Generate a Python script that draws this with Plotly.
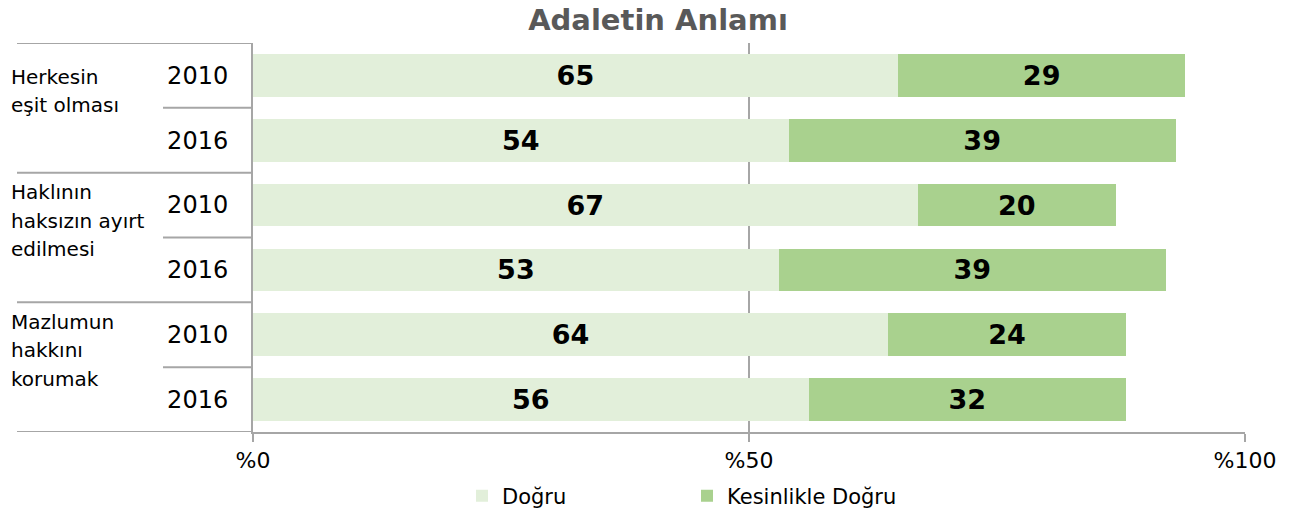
import plotly.graph_objects as go

groups = [["Herkesin", "eşit olması"],
          ["Haklının", "haksızın ayırt", "edilmesi"],
          ["Mazlumun", "hakkını", "korumak"]]
years = ["2010", "2016", "2010", "2016", "2010", "2016"]
dogru = [65, 54, 67, 53, 64, 56]
kesinlikle = [29, 39, 20, 39, 24, 32]
series_names = ["Doğru", "Kesinlikle Doğru"]
colors = ["#E2EFDA", "#A9D18E"]
x_ticks = [0, 50, 100]
x_ticktext = ["%0", "%50", "%100"]

rows = list(range(len(years)))
FONT = "DejaVu Sans"
W, H = 1300, 515
L, R, T, B = 253, 55, 43, 83
PW = W - L - R

fig = go.Figure()
for name, vals, col in zip(series_names, [dogru, kesinlikle], colors):
    fig.add_trace(go.Bar(
        y=rows, x=vals, name=name, orientation="h",
        marker=dict(color=col, line=dict(width=0)),
        width=0.66,
        text=vals, texttemplate="%{text}", textposition="inside",
        insidetextanchor="middle",
        textfont=dict(family=FONT, size=27, color="black", weight="bold"),
        hoverinfo="skip",
    ))

grid_col = "#A6A6A6"
left_full = (17 - L) / PW
left_year = (163 - L) / PW

shapes = []
for b in [-0.5, 1.5, 3.5, 5.5]:
    shapes.append(dict(type="line", xref="paper", yref="y", x0=left_full, x1=0, y0=b, y1=b,
                       line=dict(color=grid_col, width=2)))
for b in [0.5, 2.5, 4.5]:
    shapes.append(dict(type="line", xref="paper", yref="y", x0=left_year, x1=0, y0=b, y1=b,
                       line=dict(color=grid_col, width=2)))

annotations = []
for gi, lines in enumerate(groups):
    n = len(lines)
    for k, line in enumerate(lines):
        annotations.append(dict(
            text=line, xref="paper", yref="y", x=(9 - L) / PW, y=gi * 2 + 0.5,
            xanchor="left", yanchor="middle", yshift=17 - (k - (n - 1) / 2) * 28.5,
            align="left", showarrow=False,
            font=dict(family=FONT, size=20, color="black"),
        ))

fig.update_layout(
    width=W, height=H,
    margin=dict(l=L, r=R, t=T, b=B, autoexpand=False),
    paper_bgcolor="white", plot_bgcolor="white",
    barmode="stack",
    font=dict(family=FONT, color="black"),
    title=dict(text="Adaletin Anlamı", x=658 / W, xanchor="center", y=1 - 20 / H, yanchor="middle",
               xref="container", yref="container",
               font=dict(family=FONT, size=29, color="#595959", weight="bold")),
    xaxis=dict(range=[0, 100], tickvals=x_ticks, ticktext=x_ticktext,
               showgrid=True, gridcolor=grid_col, gridwidth=1.5,
               showline=True, linecolor=grid_col, linewidth=2,
               ticks="outside", ticklen=8, tickcolor=grid_col, tickwidth=2,
               tickfont=dict(family=FONT, size=22, color="black"), zeroline=False, fixedrange=True),
    yaxis=dict(range=[5.5, -0.5], tickvals=rows, ticktext=years,
               showgrid=False, showline=True, linecolor=grid_col, linewidth=2,
               ticks="", ticklabelstandoff=18,
               tickfont=dict(family=FONT, size=24, color="black"), zeroline=False, fixedrange=True),
    legend=dict(orientation="h", x=0.4375, xanchor="center", y=-64 / (H - T - B), yanchor="middle",
                font=dict(family=FONT, size=21, color="black"), entrywidth=180, traceorder="normal"),
    shapes=shapes, annotations=annotations,
)

fig.write_html("out.html", config={"displayModeBar": False},
               post_script="document.body.style.margin='0';")
